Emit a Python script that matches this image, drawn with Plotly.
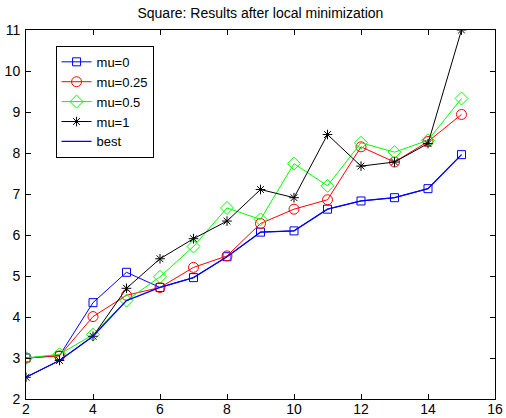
import plotly.graph_objects as go

# Problem sizes on the x axis
sizes = [2, 3, 4, 5, 6, 7, 8, 9, 10, 11, 12, 13, 14, 15]

# Objective after local minimization for each mu
mu_0 = [3.00, 3.06, 4.35, 5.09, 4.72, 4.96, 5.47, 6.07, 6.10, 6.63, 6.83, 6.91, 7.13, 7.96]
mu_025 = [3.00, 3.05, 4.01, 4.53, 4.72, 5.21, 5.49, 6.28, 6.63, 6.86, 8.15, 7.78, 8.28, 8.94]
mu_05 = [3.00, 3.09, 3.57, 4.40, 4.98, 5.72, 6.66, 6.38, 7.74, 7.20, 8.25, 8.02, 8.31, 9.33]
mu_1 = [2.53, 2.94, 3.53, 4.70, 5.42, 5.91, 6.34, 7.11, 6.91, 8.45, 7.68, 7.78, 8.23, 11.0]
best = [2.53, 2.94, 3.53, 4.40, 4.72, 4.96, 5.47, 6.07, 6.10, 6.63, 6.83, 6.91, 7.13, 7.96]

x_ticks = [2, 4, 6, 8, 10, 12, 14, 16]
y_ticks = [2, 3, 4, 5, 6, 7, 8, 9, 10, 11]

FONT = "Liberation Sans, Arial, sans-serif"

fig = go.Figure()

series = [
    ("mu=0", mu_0, "#0000ff", "square-open", 8),
    ("mu=0.25", mu_025, "#ff0000", "circle-open", 10),
    ("mu=0.5", mu_05, "#00ff00", "diamond-open", 10),
    ("mu=1", mu_1, "#000000", "asterisk-open", 8),
]
for name, vals, color, symbol, size in series:
    fig.add_trace(go.Scatter(
        x=sizes, y=vals, name=name, mode="lines+markers",
        line=dict(color=color, width=1),
        marker=dict(symbol=symbol, size=size, color=color,
                    line=dict(color=color, width=1)),
    ))

fig.add_trace(go.Scatter(
    x=sizes, y=best, name="best", mode="lines",
    line=dict(color="#0000ff", width=1.3),
))

axis_common = dict(
    showline=True, linecolor="black", linewidth=1, mirror="ticks",
    ticks="inside", ticklen=5, tickcolor="black", tickwidth=1,
    showgrid=False, zeroline=False, automargin=False,
    tickfont=dict(family=FONT, size=14, color="black"),
)

fig.update_layout(
    width=506, height=418,
    margin=dict(l=26, r=11, t=30, b=19),
    paper_bgcolor="white", plot_bgcolor="white",
    title=dict(text="Square: Results after local minimization",
               x=0.5146, xanchor="center", y=0.968, yanchor="middle",
               font=dict(family=FONT, size=14, color="black")),
    xaxis=dict(range=[2, 16], tickvals=x_ticks, ticklabelstandoff=-3,
               **axis_common),
    yaxis=dict(range=[2, 11], tickvals=y_ticks, ticklabelstandoff=2,
               **axis_common),
    legend=dict(x=0.063, y=0.957, xanchor="left", yanchor="top",
                bordercolor="black", borderwidth=1, bgcolor="white",
                font=dict(family=FONT, size=13, color="black"),
                tracegroupgap=0, itemwidth=30),
    showlegend=True,
)

fig.write_html("out.html")
